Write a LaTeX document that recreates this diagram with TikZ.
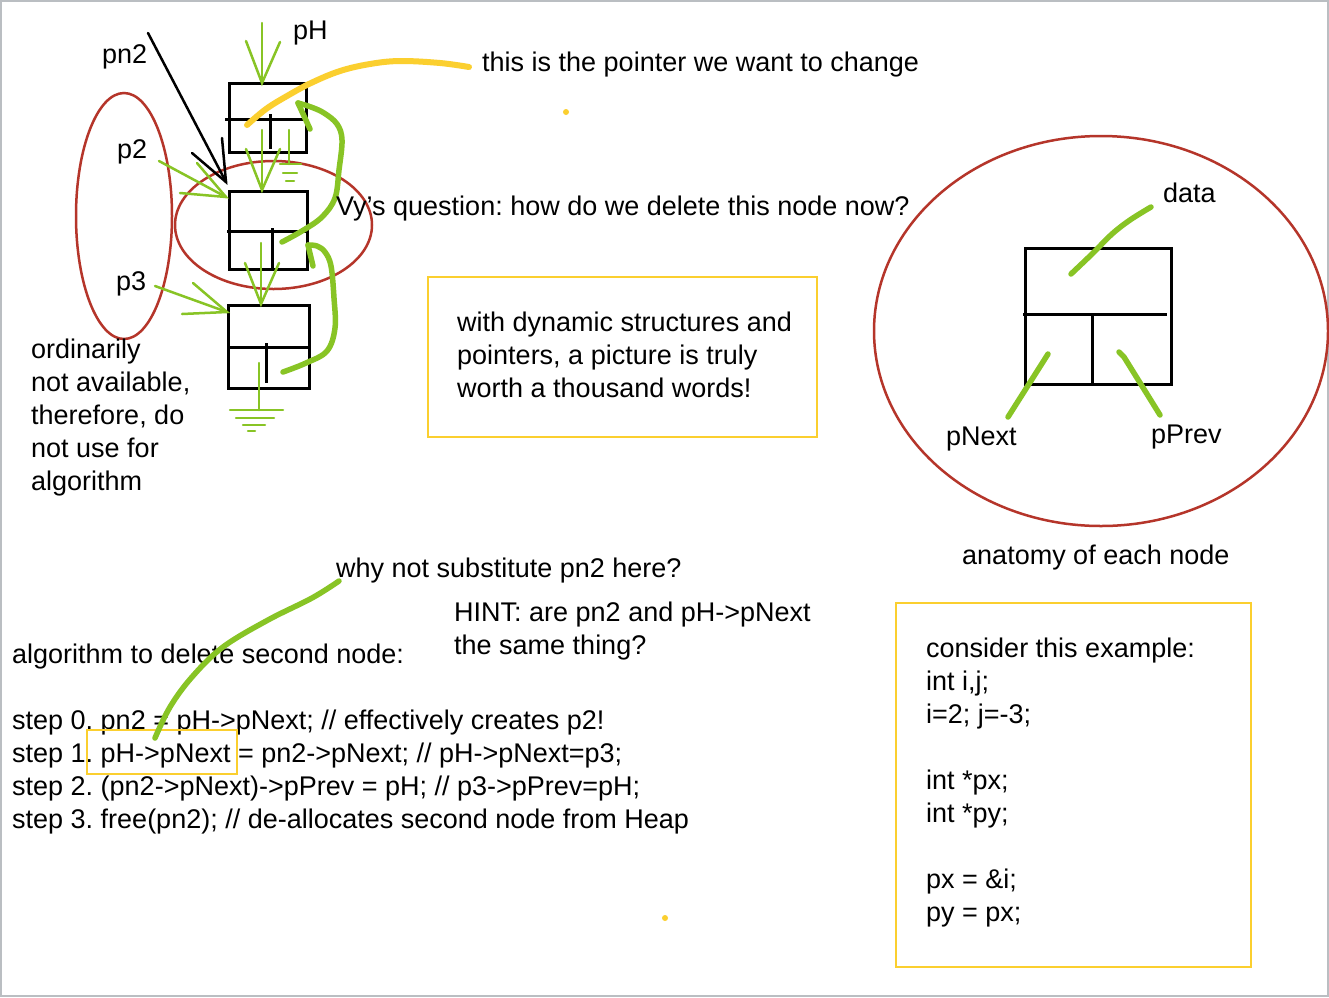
\documentclass[tikz,border=0pt]{standalone}
\usepackage{fontspec}
\setmainfont{Liberation Sans}
\frenchspacing
\definecolor{gr}{HTML}{88C425}
\definecolor{yl}{HTML}{FBCF2F}
\definecolor{rd}{HTML}{B5352A}
\definecolor{fr}{HTML}{BABEC2}
\tikzset{
  txt/.style={inner sep=0pt, anchor=base west, align=left, font=\fontsize{27}{33}\selectfont\frenchspacing},
  blk/.style={draw=black, line width=3pt},
  thinblk/.style={draw=black, line width=2.5pt, line cap=round},
  gthin/.style={draw=gr, line width=2.5pt, line cap=round},
  gthick/.style={draw=gr, line width=5.5pt, line cap=round, line join=round},
  ythick/.style={draw=yl, line width=6pt, line cap=round, line join=round},
  ybox/.style={draw=yl, line width=2.5pt},
  rell/.style={draw=rd, line width=2.5pt},
}
\begin{document}
\begin{tikzpicture}[x=1pt,y=-1pt]
\useasboundingbox (0,0) rectangle (1329,997);
\fill[white] (0,0) rectangle (1329,997);
\draw[fr, line width=2pt] (1,1) rectangle (1328,996);

% ---------- list nodes ----------
\draw[blk] (229,83) rectangle (306,152);
\coordinate (n1) at (267,117);
\draw[blk] (225,119) -- (306,119);
\draw[blk] (270,114) -- (270,149);

\draw[blk] (229,191) rectangle (307,269);
\coordinate (n2) at (268,230);
\draw[blk] (227,231) -- (307,231);
\draw[blk] (272,228) -- (272,268);

\draw[blk] (228,305) rectangle (309,388);
\coordinate (n3) at (268,346);
\draw[blk] (228,347) -- (310,347);
\draw[blk] (266,343) -- (266,383);

% ---------- red ellipses ----------
\draw[rell] (124,216) ellipse [x radius=48, y radius=123];
\draw[rell] (273.5,225) ellipse [x radius=98.5, y radius=64];
\draw[rell] (1101,331) ellipse [x radius=227, y radius=195];

% ---------- thin green arrows ----------
% pH
\draw[gthin] (262,23) -- (262,83);
\draw[gthin] (246,41) -- (262,83) -- (280,42);
% n1 -> n2
\draw[gthin] (262,130) -- (262,190);
\draw[gthin] (246,149) -- (262,190) -- (280,149);
% n2 -> n3
\draw[gthin] (261,243) -- (261,304);
\draw[gthin] (245,263) -- (261,304) -- (279,263);
% p2
\draw[gthin] (159,161) -- (226,197);
\draw[gthin] (197,163) -- (226,197) -- (180,193);
% p3
\draw[gthin] (155,286) -- (227,312);
\draw[gthin] (193,283) -- (227,312) -- (182,314);
% ground 1
\draw[gthin] (289,130) -- (289,164);
\draw[gthin] (280,164) -- (301,164);
\draw[gthin] (283,173) -- (297,173);
\draw[gthin] (286,181) -- (294,181);
% ground 2
\draw[gthin] (259,363) -- (259,410);
\draw[gthin] (230,410) -- (283,410);
\draw[gthin] (236,418) -- (274,418);
\draw[gthin] (243,425) -- (265,425);
\draw[gthin] (248,431) -- (255,431);

% ---------- black pn2 arrow ----------
\draw[thinblk] (148,33) -- (226,182);
\draw[thinblk] (222,138) -- (226,182) -- (192,153);

% ---------- thick green back pointers ----------
\draw[gthick] plot[smooth, tension=0.6] coordinates {(282,242) (302,231) (322,217) (335,198) (339,170) (342,140) (337,124) (324,113) (311,107) (298,103)};
\draw[gthick] (298,103) -- (310,129);
\draw[gthick] plot[smooth, tension=0.6] coordinates {(283,372) (306,363) (327,351) (335,328) (334,298) (331,266) (325,252) (317,246) (308,245)};
\draw[gthick] (308,245) -- (313,266);

% ---------- yellow pointer stroke ----------
\draw[ythick] plot[smooth, tension=0.6] coordinates {(247,125) (266,109) (287,96) (311,83) (340,71) (370,64) (400,61) (440,63) (469,67)};
\fill[yl] (566,112) circle (3);
\fill[yl] (665,918) circle (3);

% ---------- texts top-left ----------
\node[txt] (tpH) at (293,39) {pH};
\node[txt] (tpn2) at (102,63) {pn2};
\node[txt] (tp2) at (117,158) {p2};
\node[txt] (tp3) at (116,290) {p3};
\node[txt] (tptr) at (482,71) {this is the pointer we want to change};
\node[txt] (tvy) at (336,215) {Vy's question: how do we delete this node now?};
\node[txt] (tord) at (31,490) {ordinarily\\not available,\\therefore, do\\not use for\\algorithm};

% ---------- box 1 ----------
\draw[ybox] (428,277) rectangle (817,437);
\node[txt] (tbox1) at (457,397) {with dynamic structures and\\pointers, a picture is truly\\worth a thousand words!};

% ---------- anatomy ----------
\draw[blk] (1025,248) rectangle (1171,384);
\coordinate (an) at (1098,316);
\draw[blk] (1023,314) -- (1167,314);
\draw[blk] (1092,314) -- (1092,386);
\draw[gthick] plot[smooth, tension=0.6] coordinates {(1071,274) (1092,254) (1112,234) (1130,220) (1151,207)};
\draw[gthick] (1048,354) -- (1008,417);
\draw[gthick] (1119,352) -- (1124,357) -- (1160,415);
\node[txt] (tdata) at (1163,202) {data};
\node[txt] (tpnext) at (946,445) {pNext};
\node[txt] (tpprev) at (1151,443) {pPrev};
\node[txt] (tanat) at (962,564) {anatomy of each node};

% ---------- bottom-left ----------
\node[txt] (twhy) at (336,577) {why not substitute pn2 here?};
\node[txt] (thint) at (454,654) {HINT: are pn2 and pH->pNext\\the same thing?};
\node[txt] (talg) at (12,663) {algorithm to delete second node:};
\node[txt] (ts0) at (12,729) {step 0. pn2 = pH->pNext; // effectively creates p2!};
\node[txt] (ts1) at (12,762) {step 1. pH->pNext = pn2->pNext; // pH->pNext=p3;};
\node[txt] (ts2) at (12,795) {step 2. (pn2->pNext)->pPrev = pH; // p3->pPrev=pH;};
\node[txt] (ts3) at (12,828) {step 3. free(pn2); // de-allocates second node from Heap};
\draw[ybox] (87,730) rectangle (237,774);
\draw[gthick] plot[smooth, tension=0.6] coordinates {(339,581) (312,598) (268,620) (223,647) (192,677) (170,707) (155,738)};

% ---------- box 2 ----------
\draw[ybox] (896,603) rectangle (1251,967);
\node[txt] (tbox2) at (926,921) {consider this example:\\int i,j;\\i=2; j=-3;\\\mbox{}\\int *px;\\int *py;\\\mbox{}\\px = \&i;\\py = px;};
\end{tikzpicture}
\end{document}
